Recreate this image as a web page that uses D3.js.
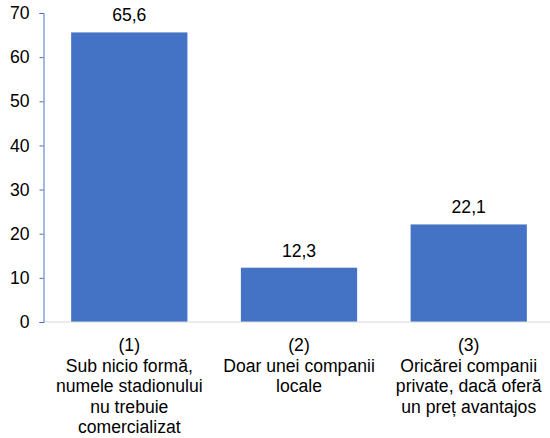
<!DOCTYPE html>
<html><head><meta charset="utf-8">
<script src="https://cdn.jsdelivr.net/npm/d3@7"></script>
<style>body{margin:0;background:#fff}text{font-family:"Liberation Sans",Arial,sans-serif}</style>
</head><body><svg id="c" width="550" height="438"></svg>
<script>
const categories = ["(1)", "(2)", "(3)"];
const labelLines = [
  ["(1)", "Sub nicio formă,", "numele stadionului", "nu trebuie", "comercializat"],
  ["(2)", "Doar unei companii", "locale"],
  ["(3)", "Oricărei companii", "private, dacă oferă", "un preț avantajos"]
];
const values = [65.6, 12.3, 22.1];
const valueLabels = ["65,6", "12,3", "22,1"];
const yTicks = [0, 10, 20, 30, 40, 50, 60, 70];

const FS = 17.6;
const svg = d3.select("#c");
const x = d3.scaleBand().domain(categories).range([44, 554]).paddingInner(0.315).paddingOuter(0.16);
const y = d3.scaleLinear().domain([0, 70]).range([322, 13]);

svg.append("g").selectAll("rect").data(values).join("rect")
  .attr("x", (d, i) => x(categories[i])).attr("width", x.bandwidth())
  .attr("y", d => y(d)).attr("height", d => y(0) - y(d)).attr("fill", "#4472C4");

svg.append("line").attr("x1", 43).attr("x2", 550).attr("y1", y(0)).attr("y2", y(0))
  .attr("stroke", "#d9d9d9").attr("stroke-width", 1.2);

const ya = svg.append("g").attr("transform", "translate(43.5,0)")
  .call(d3.axisLeft(y).tickValues(yTicks).tickSize(4).tickPadding(10).tickFormat(d3.format("d")));
ya.select(".domain").attr("stroke", "#4472C4").attr("stroke-width", 1);
ya.selectAll(".tick line").attr("stroke", "#4472C4");
ya.selectAll(".tick text").attr("font-size", FS).attr("fill", "#000").attr("font-family", "Liberation Sans, Arial, sans-serif");

svg.append("g").selectAll("text").data(values).join("text")
  .attr("x", (d, i) => x(categories[i]) + x.bandwidth() / 2)
  .attr("y", d => y(d) - 11)
  .attr("text-anchor", "middle").attr("font-size", FS).attr("fill", "#000")
  .text((d, i) => valueLabels[i]);

const lab = svg.append("g");
labelLines.forEach((lines, i) => {
  const t = lab.append("text").attr("text-anchor", "middle").attr("font-size", FS).attr("fill", "#000");
  lines.forEach((l, j) => t.append("tspan").attr("x", x(categories[i]) + x.bandwidth() / 2)
    .attr("y", 351 + j * 20.6).text(l));
});
</script></body></html>
